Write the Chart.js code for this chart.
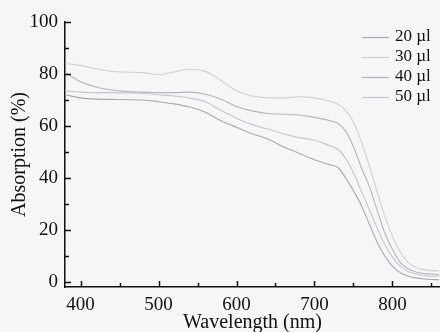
<!DOCTYPE html>
<html>
<head>
<meta charset="utf-8">
<script src="https://cdn.jsdelivr.net/npm/chart.js@4.4.0/dist/chart.umd.min.js"></script>
<style>
  html, body { margin: 0; padding: 0; background: #f6f6f8; }
  #wrap { width: 440px; height: 332px; }
</style>
</head>
<body>
<div id="wrap"><canvas id="chart" width="440" height="332"></canvas></div>
<script>
// wavelength (nm) and absorption (%)
const wavelengths = [380, 400, 420, 440, 460, 480, 500, 520, 540, 560, 580, 600, 620, 640, 660, 680, 700, 720, 730, 740, 750, 760, 770, 780, 790, 800, 810, 820, 830, 840, 850, 860];
const abs20 = [72, 70.8, 70.3, 70.2, 70.1, 70, 69.3, 68.5, 67.3, 65.3, 62, 59.5, 57, 55, 52, 49.5, 47, 45, 44, 40, 35, 29.5, 22.5, 15.5, 10, 6, 3.5, 2.2, 1.5, 1.1, 0.9, 0.8];
const abs30 = [84, 83.3, 82, 81, 80.7, 80.5, 79.8, 80.8, 81.8, 81, 77.5, 73.5, 71.5, 70.8, 70.8, 71.2, 70.8, 69.5, 68.3, 66, 61.5, 54, 45, 35, 25.5, 17.5, 11.5, 7.5, 5.5, 4.7, 4.3, 4.2];
const abs40 = [80.5, 77, 75, 73.8, 73.2, 73, 72.8, 72.8, 73, 72.2, 70.3, 67.5, 65.8, 64.8, 64.5, 64.2, 63.3, 62, 61, 58, 52, 44, 37, 28, 19, 12.5, 7.5, 5, 3.8, 3.2, 3, 2.8];
const abs50 = [73.5, 73, 72.8, 72.8, 72.7, 72.5, 72, 71.5, 70.7, 69.3, 66, 63, 60.5, 58.8, 57, 55.5, 54.5, 52.3, 51, 47.5, 42, 35, 28, 21, 14.5, 9.5, 6, 4, 3, 2.5, 2.2, 2.2];

const seriesLabels = ['20 µl', '30 µl', '40 µl', '50 µl'];
const xTickValues = [400, 450, 500, 550, 600, 650, 700, 750, 800, 850];
const yTickValues = [0, 10, 20, 30, 40, 50, 60, 70, 80, 90, 100];

const serif = '"Liberation Serif", "DejaVu Serif", serif';

function toPoints(values) {
  return wavelengths.map((w, i) => ({ x: w, y: values[i] }));
}

// ticks pointing into the plot, long for labelled ones
const inwardTicks = {
  id: 'inwardTicks',
  afterDraw(chart) {
    const ctx = chart.ctx;
    const xs = chart.scales.x;
    const ys = chart.scales.y;
    const area = chart.chartArea;
    ctx.save();
    ctx.strokeStyle = '#111';
    ctx.lineWidth = 1.5;
    yTickValues.forEach(v => {
      const y = Math.round(ys.getPixelForValue(v)) + 0.5;
      const len = v % 20 === 0 ? 6 : 4;
      ctx.beginPath();
      ctx.moveTo(area.left, y);
      ctx.lineTo(area.left + len, y);
      ctx.stroke();
    });
    xTickValues.forEach(v => {
      const x = Math.round(xs.getPixelForValue(v)) + 0.5;
      const len = v % 100 === 0 ? 6 : 4;
      ctx.beginPath();
      ctx.moveTo(x, area.bottom);
      ctx.lineTo(x, area.bottom - len);
      ctx.stroke();
    });
    ctx.restore();
  }
};

// legend in the upper right corner
const cornerLegend = {
  id: 'cornerLegend',
  afterDraw(chart) {
    const ctx = chart.ctx;
    ctx.save();
    ctx.font = '17px ' + serif;
    ctx.textBaseline = 'middle';
    ctx.fillStyle = '#111';
    chart.data.datasets.forEach((ds, i) => {
      const y = 37 + i * 20;
      ctx.strokeStyle = ds.borderColor;
      ctx.lineWidth = 1.2;
      ctx.beginPath();
      ctx.moveTo(362, y + 0.5);
      ctx.lineTo(389, y + 0.5);
      ctx.stroke();
      ctx.fillText(ds.label, 395, y);
    });
    ctx.restore();
  }
};

const colors = ['#aaaaae', '#d0d0d3', '#b4b4b8', '#c6c6ca'];
const allSeries = [abs20, abs30, abs40, abs50];

const chart = new Chart(document.getElementById('chart').getContext('2d'), {
  type: 'line',
  data: {
    datasets: allSeries.map((s, i) => ({
      label: seriesLabels[i],
      data: toPoints(s),
      borderColor: colors[i],
      borderWidth: 1.1,
      pointRadius: 0,
      cubicInterpolationMode: 'monotone',
      fill: false
    }))
  },
  options: {
    responsive: false,
    animation: false,
    layout: { padding: { top: 22, right: 0, left: 0, bottom: 0 } },
    plugins: {
      legend: { display: false },
      tooltip: { enabled: false }
    },
    scales: {
      x: {
        type: 'linear',
        min: 380,
        max: 861,
        afterBuildTicks: scale => { scale.ticks = xTickValues.map(v => ({ value: v })); },
        afterFit: scale => { scale.height = 45; },
        grid: { display: false, drawTicks: false },
        border: { display: true, color: '#111', width: 1.5 },
        ticks: {
          padding: 7,
          color: '#111',
          font: { family: serif, size: 19 },
          maxRotation: 0,
          autoSkip: false,
          callback: v => (v % 100 === 0 ? String(v) : '')
        },
        title: {
          display: true,
          text: 'Wavelength (nm)',
          color: '#111',
          font: { family: serif, size: 20 },
          padding: { top: 0, bottom: -3 }
        }
      },
      y: {
        min: -2,
        max: 100,
        afterBuildTicks: scale => { scale.ticks = yTickValues.map(v => ({ value: v })); },
        afterFit: scale => { scale.width = 65; },
        grid: { display: false, drawTicks: false },
        border: { display: true, color: '#111', width: 1.5 },
        ticks: {
          padding: 7,
          color: '#111',
          font: { family: serif, size: 19 },
          autoSkip: false,
          callback: v => (v % 20 === 0 ? String(v) : '')
        },
        title: {
          display: true,
          text: 'Absorption (%)',
          color: '#111',
          font: { family: serif, size: 20 },
          padding: { top: 8, bottom: 0 }
        }
      }
    }
  },
  plugins: [inwardTicks, cornerLegend]
});
</script>
</body>
</html>
